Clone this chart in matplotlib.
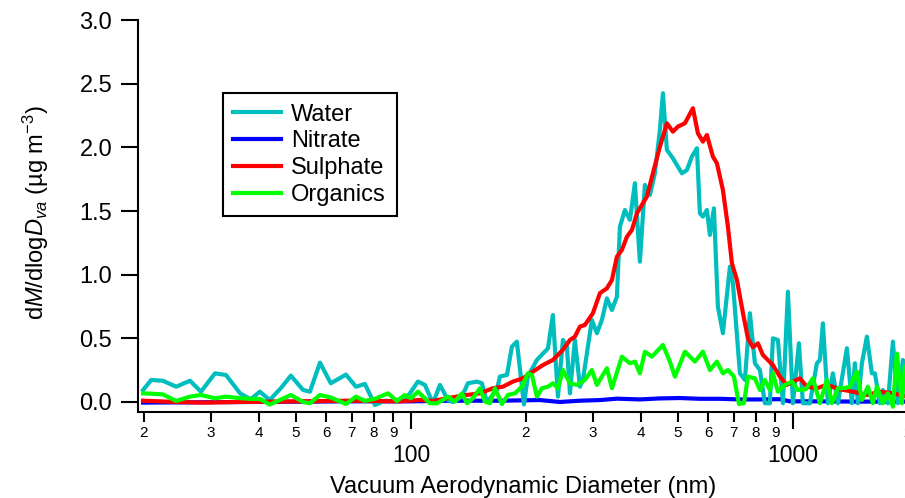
import matplotlib
matplotlib.use("Agg")
import matplotlib.pyplot as plt
from matplotlib.ticker import FixedLocator, FixedFormatter

plt.rcParams["font.family"] = ["Liberation Sans", "DejaVu Sans"]
plt.rcParams["mathtext.fontset"] = "custom"
plt.rcParams["mathtext.rm"] = "Liberation Sans"
plt.rcParams["mathtext.it"] = "Liberation Sans:italic"

# Water
water_d = [
    19.9, 20.9, 22.4, 24.3, 26.4, 28.2, 30.7, 32.8, 35.7, 38.1, 40.2, 42.7, 45.7,
    48.5, 52.2, 54.4, 57.8, 61.7, 67.6, 71.8, 75.8, 80.5, 85.5, 90.8, 96.4,
    104.3, 108.8, 114.2, 119.1, 125.0, 128.8, 136.0, 141.0, 148.9, 153.4,
    158.1, 167.9, 171.0, 178.4, 183.8, 189.4, 197.6, 202.4, 213.7, 221.6,
    228.4, 235.3, 242.6, 250.0, 256.1, 260.8, 268.7, 277.0, 282.0, 290.6,
    297.7, 306.8, 316.2, 325.9, 335.9, 346.2, 352.5, 363.3, 374.4, 385.8,
    397.6, 409.8, 422.3, 435.2, 448.6, 456.8, 467.9, 485.1, 512.2, 527.9,
    544.0, 560.7, 570.9, 581.3, 595.5, 606.4, 621.2, 636.3, 655.8, 684.1,
    696.6, 726.6, 748.8, 771.7, 795.3, 819.7, 844.8, 870.6, 886.5, 913.6,
    941.6, 970.4, 1000, 1036.8, 1062.1, 1107.9, 1155.6, 1176.7, 1198.2, 1234.8,
    1272.6, 1311.6, 1384.7, 1427.1, 1453.1, 1479.7, 1515.8, 1562.1, 1609.9,
    1639.3, 1689.5, 1720.3, 1772.9, 1827.2, 1883.1, 1940.7, 2000
]
water = [
    0.094, 0.173, 0.167, 0.120, 0.167, 0.081, 0.225, 0.212, 0.068, 0.021, 0.081, 0.016, 0.110,
    0.207, 0.094, 0.081, 0.309, 0.147, 0.215, 0.120, 0.141, -0.024, 0.010, 0.005, 0.010,
    0.160, 0.134, -0.010, 0.134, 0.016, 0.000, 0.042, 0.147, 0.160, 0.147,
    0.000, 0.094, 0.200, 0.212, 0.434, 0.474, -0.020, 0.200, 0.330, 0.380,
    0.420, 0.683, 0.042, 0.487, 0.434, 0.068, 0.487, 0.120, 0.173, 0.434,
    0.644, 0.540, 0.644, 0.814, 0.723, 0.827, 1.377, 1.508, 1.430, 1.718,
    1.102, 1.705, 1.626, 1.796, 2.137, 2.425, 1.980, 1.914, 1.796, 1.822,
    1.927, 1.993, 1.482, 1.456, 1.508, 1.312, 1.521, 0.749, 0.540, 1.063,
    0.932, 0.225, 0.173, 0.697, 0.304, 0.251, -0.010, -0.010, 0.500, 0.487,
    -0.010, 0.866, -0.010, 0.461, -0.010, -0.010, 0.304, 0.330, 0.618, -0.010,
    0.225, -0.010, 0.422, -0.010, 0.304, -0.010, 0.304, 0.513, 0.225,
    0.225, -0.010, 0.094, -0.010, 0.474, -0.010, 0.330, 0.200
]

# Nitrate
nitrate_d = [19.9, 37.9, 69.2, 100, 126.5, 171.0, 217.6, 245.5, 277.0, 312.4, 346.2,
             397.6, 448.6, 506.0, 570.9, 644.1, 726.6, 819.7, 924.7, 982.1, 1176.7,
             1497.6, 2000]
nitrate = [-0.005, 0.000, 0.005, 0.005, 0.010, 0.010, 0.015, 0.000, 0.010, 0.015, 0.026,
           0.020, 0.028, 0.031, 0.025, 0.025, 0.020, 0.020, 0.022, 0.005, 0.005,
           0.003, 0.003]

# Sulphate
sulphate_d = [
    19.9, 24.3, 28.2, 35.7, 51.2, 69.2, 93.6, 105.6, 114.2, 124.2, 140.2, 151.6,
    163.9, 174.1, 184.9, 196.4, 208.6, 221.6, 235.3, 250.0, 260.8, 268.7, 277.0,
    285.4, 299.5, 312.4, 325.9, 335.9, 346.2, 356.7, 367.7, 378.9, 390.5, 404.9,
    414.8, 430.0, 448.6, 467.9, 485.1, 500.0, 521.5, 547.3, 564.1, 581.3, 595.5,
    617.5, 632.5, 655.8, 675.9, 692.4, 713.6, 739.9, 762.5, 785.8, 809.9, 834.6,
    886.5, 924.7, 964.5, 1000, 1043.1, 1088.0, 1155.6, 1227.4, 1327.5, 1435.7,
    1562.1, 1689.5, 1827.2, 2000
]
sulphate = [
    0.010, 0.000, -0.005, 0.000, 0.005, 0.010, 0.005, 0.016, 0.008, 0.029, 0.055, 0.068,
    0.108, 0.120, 0.160, 0.186, 0.238, 0.290, 0.330, 0.410, 0.487, 0.513, 0.592,
    0.605, 0.697, 0.854, 0.893, 0.958, 1.141, 1.194, 1.298, 1.351, 1.482, 1.561,
    1.613, 1.796, 2.005, 2.189, 2.123, 2.163, 2.189, 2.307, 2.110, 2.045, 2.097,
    1.927, 1.875, 1.665, 1.377, 1.090, 0.958, 0.700, 0.500, 0.430, 0.461, 0.369,
    0.290, 0.199, 0.134, 0.160, 0.186, 0.120, 0.108, 0.134, 0.100, 0.081,
    0.055, 0.081, 0.068, 0.042
]

# Organics
organics_d = [
    19.9, 20.9, 22.4, 24.3, 26.4, 28.2, 30.7, 32.8, 35.7, 38.1, 40.2, 42.7, 45.7,
    48.5, 52.2, 54.4, 57.8, 61.7, 67.6, 71.8, 75.8, 80.5, 87.1, 91.9, 96.4, 100,
    104.3, 108.8, 112.1, 117.0, 121.3, 125.0, 130.4, 136.0, 140.2, 145.3, 151.6,
    156.2, 161.0, 165.9, 173.1, 179.4, 187.2, 195.2, 202.4, 207.4, 213.7, 220.3,
    228.4, 235.3, 242.6, 250.0, 260.8, 272.0, 285.4, 297.7, 306.8, 325.9, 335.9,
    356.7, 374.4, 385.8, 397.6, 409.8, 427.5, 456.8, 476.4, 491.0, 521.5, 554.0,
    581.3, 606.4, 632.5, 655.8, 675.9, 700.8, 722.2, 744.3, 762.5, 795.3, 819.7,
    844.8, 870.6, 886.5, 913.6, 953.0, 994.1, 1030.6, 1081.5, 1128.1, 1176.7,
    1227.4, 1264.9, 1311.6, 1368.1, 1410.0, 1470.8, 1515.8, 1571.6, 1619.7,
    1659.2, 1720.3, 1772.9, 1827.2, 1871.8, 1929.0, 1964.2, 2000
]
organics = [
    0.068, 0.065, 0.060, 0.008, 0.042, 0.055, 0.029, 0.042, 0.030, 0.024, 0.024, -0.020, 0.020,
    0.055, 0.000, -0.010, 0.055, 0.035, -0.016, 0.042, 0.008, 0.025, 0.068, 0.008, 0.055, 0.029,
    0.081, 0.029, -0.010, -0.010, 0.016, 0.042, 0.003, 0.068, -0.010, 0.029, 0.108,
    0.003, -0.010, 0.108, -0.016, 0.055, 0.068, 0.120, 0.225, 0.212, 0.042, 0.108,
    0.120, 0.147, 0.108, 0.251, 0.147, 0.134, 0.173, 0.251, 0.134, 0.265, 0.108,
    0.356, 0.304, 0.317, 0.225, 0.395, 0.356, 0.448, 0.317, 0.199, 0.395, 0.317,
    0.395, 0.251, 0.317, 0.225, 0.251, 0.200, -0.015, -0.010, 0.199, 0.186, 0.094,
    0.173, 0.094, 0.225, 0.081, 0.134, 0.160, 0.094, 0.100, 0.186, -0.010,
    0.173, -0.010, 0.108, 0.110, 0.120, 0.238, 0.016, 0.120, -0.010,
    0.120, -0.010, 0.068, -0.037, 0.380, -0.010, 0.277, 0.150
]

minor_ticks = [20, 30, 40, 50, 60, 70, 80, 90, 200, 300, 400, 500, 600, 700, 800, 900, 2000]
minor_labels = ["2", "3", "4", "5", "6", "7", "8", "9",
                "2", "3", "4", "5", "6", "7", "8", "9", "2"]
major_ticks = [100, 1000]
major_labels = ["100", "1000"]

fig = plt.figure(figsize=(9.05, 4.98), dpi=100)
ax = fig.add_axes([0.1525, 0.1721, 0.8516, 0.7877])

lw = 3.0
ax.plot(nitrate_d, nitrate, color="#0000FF", lw=lw, label="Nitrate")
ax.plot(water_d, water, color="#00BEBE", lw=lw, label="Water")
ax.plot(sulphate_d, sulphate, color="#FF0000", lw=lw, label="Sulphate")
ax.plot(organics_d, organics, color="#00FF00", lw=lw, label="Organics")

ax.set_xscale("log")
ax.set_xlim(19.3, 2010)
ax.set_ylim(-0.081, 3.0)

ax.xaxis.set_major_locator(FixedLocator(major_ticks))
ax.xaxis.set_major_formatter(FixedFormatter(major_labels))
ax.xaxis.set_minor_locator(FixedLocator(minor_ticks))
ax.xaxis.set_minor_formatter(FixedFormatter(minor_labels))
ax.set_yticks([0.0, 0.5, 1.0, 1.5, 2.0, 2.5, 3.0])
ax.set_yticklabels(["0.0", "0.5", "1.0", "1.5", "2.0", "2.5", "3.0"])

for s in ["top", "right"]:
    ax.spines[s].set_visible(False)
for s in ["left", "bottom"]:
    ax.spines[s].set_linewidth(1.5)

ax.tick_params(axis="y", direction="out", length=12.5, width=1.5, pad=6, labelsize=17)
ax.tick_params(axis="x", which="major", direction="out", length=12.5, width=1.5,
               pad=10, labelsize=16.5)
ax.tick_params(axis="x", which="minor", direction="out", length=7, width=1.5,
               pad=3, labelsize=11)

ax.set_xlabel("Vacuum Aerodynamic Diameter (nm)", fontsize=17)
ax.xaxis.set_label_coords(0.5, -0.163)
ax.set_ylabel("d$M$/dlog$D_{va}$ (µg m$^{-3}$)", fontsize=17)
ax.yaxis.set_label_coords(-0.113, 0.51)

handles, labels = ax.get_legend_handles_labels()
order = [1, 0, 2, 3]
leg = ax.legend([handles[i] for i in order], [labels[i] for i in order],
                loc="upper left", bbox_to_anchor=(0.110, 0.814), borderaxespad=0,
                fontsize=17, handlelength=2.0, handletextpad=0.45,
                borderpad=0.45, labelspacing=0.2, fancybox=False, framealpha=1)
leg.get_frame().set_edgecolor("black")
leg.get_frame().set_linewidth(1.5)

fig.savefig("out.png", dpi=100)
